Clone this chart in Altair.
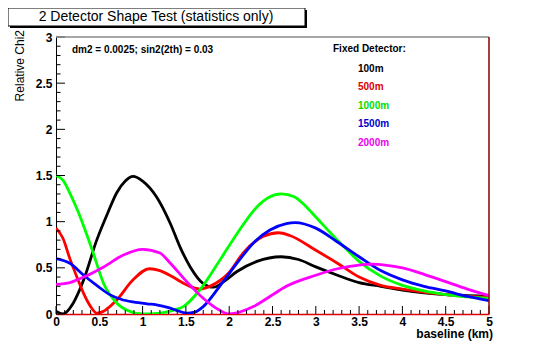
import altair as alt
import pandas as pd

# ---- data ----
black_x = [0, 0.08, 0.2, 0.32, 0.47, 0.6, 0.7, 0.8, 0.89, 1.0, 1.16, 1.32, 1.43, 1.55, 1.7, 1.82, 1.95, 2.09, 2.32, 2.6, 2.8, 3.0, 3.25, 3.5, 3.75, 4.0, 4.25, 4.5, 4.75, 5.0]
black_y = [0.03, 0.0, 0.12, 0.37, 0.80, 1.10, 1.31, 1.44, 1.49, 1.44, 1.27, 0.98, 0.73, 0.51, 0.33, 0.29, 0.36, 0.46, 0.57, 0.62, 0.59, 0.51, 0.42, 0.34, 0.30, 0.26, 0.23, 0.21, 0.20, 0.19]

red_x = [0, 0.08, 0.16, 0.25, 0.32, 0.4, 0.47, 0.55, 0.7, 0.89, 1.08, 1.2, 1.35, 1.5, 1.66, 1.8, 1.89, 2.0, 2.16, 2.39, 2.57, 2.7, 3.0, 3.25, 3.5, 3.75, 4.0, 4.5, 5.0]
red_y = [0.93, 0.82, 0.6, 0.38, 0.22, 0.08, 0.01, 0.03, 0.15, 0.37, 0.49, 0.47, 0.40, 0.32, 0.27, 0.31, 0.36, 0.45, 0.66, 0.84, 0.88, 0.85, 0.69, 0.55, 0.40, 0.31, 0.27, 0.21, 0.18]

green_x = [0, 0.08, 0.16, 0.25, 0.32, 0.43, 0.55, 0.7, 0.85, 1.0, 1.2, 1.35, 1.47, 1.66, 1.89, 2.09, 2.32, 2.45, 2.6, 2.75, 2.88, 3.0, 3.25, 3.5, 3.75, 4.0, 4.25, 4.5, 5.0]
green_y = [1.5, 1.45, 1.31, 1.12, 0.95, 0.66, 0.33, 0.12, 0.03, 0.0, 0.01, 0.04, 0.08, 0.26, 0.58, 0.87, 1.16, 1.26, 1.30, 1.27, 1.17, 1.05, 0.80, 0.57, 0.41, 0.31, 0.25, 0.21, 0.17]

blue_x = [0, 0.16, 0.32, 0.47, 0.62, 0.75, 0.89, 1.05, 1.16, 1.3, 1.39, 1.51, 1.6, 1.7, 1.89, 2.09, 2.28, 2.47, 2.66, 2.76, 3.0, 3.25, 3.5, 3.75, 4.0, 4.25, 4.5, 4.75, 5.0]
blue_y = [0.6, 0.55, 0.42, 0.31, 0.21, 0.16, 0.13, 0.11, 0.10, 0.07, 0.04, 0.01, 0.02, 0.08, 0.30, 0.55, 0.77, 0.91, 0.98, 0.99, 0.93, 0.78, 0.62, 0.47, 0.37, 0.30, 0.25, 0.19, 0.145]

magenta_x = [0, 0.16, 0.32, 0.55, 0.78, 1.0, 1.2, 1.32, 1.51, 1.7, 1.89, 2.0, 2.28, 2.47, 2.66, 3.0, 3.25, 3.5, 3.65, 3.8, 4.0, 4.25, 4.5, 4.75, 5.0]
magenta_y = [0.32, 0.34, 0.40, 0.51, 0.64, 0.70, 0.66, 0.55, 0.35, 0.17, 0.04, 0.0, 0.08, 0.19, 0.30, 0.42, 0.49, 0.53, 0.54, 0.53, 0.50, 0.43, 0.35, 0.27, 0.20]

series_names = ["100m", "500m", "1000m", "1500m", "2000m"]
series_colors = ["#000000", "#ff0000", "#00ff00", "#0000ff", "#ff00ff"]
legend_colors = ["#000000", "#dd0000", "#00dd00", "#0000cc", "#ee00ee"]

x_major = [0, 0.5, 1, 1.5, 2, 2.5, 3, 3.5, 4, 4.5, 5]
x_minor = [i / 10 for i in range(51)]
y_major = [0, 0.5, 1, 1.5, 2, 2.5, 3]
y_minor = [i / 10 for i in range(31)]

title_text = "2 Detector Shape Test (statistics only)"
ytitle_text = "Relative Chi2"
xtitle_text = "baseline (km)"
note_text = "dm2 = 0.0025; sin2(2th) = 0.03"
legend_head = "Fixed Detector:"

# ---- build tables ----
rows = []
for name, xs, ys in zip(series_names,
                        [black_x, red_x, green_x, blue_x, magenta_x],
                        [black_y, red_y, green_y, blue_y, magenta_y]):
    for i, (a, b) in enumerate(zip(xs, ys)):
        rows.append({"series": name, "x": a, "y": b, "i": i})
df = pd.DataFrame(rows)

W, H = 433, 277
FONT = "Liberation Sans"

xscale = alt.Scale(domain=[0, 5], nice=False, zero=False)
yscale = alt.Scale(domain=[0, 3], nice=False, zero=False)

lines = alt.Chart(df).mark_line(strokeWidth=2.8, interpolate="monotone", clip=True).encode(
    x=alt.X("x:Q", scale=xscale,
            axis=alt.Axis(title=None, values=x_major, ticks=False, grid=False, format="~g",
                          labelFont=FONT, labelFontWeight="bold", labelFontSize=12,
                          labelColor="#000", labelPadding=2, labelFlush=False,
                          domainColor="#dd0000", domainWidth=1.5)),
    y=alt.Y("y:Q", scale=yscale,
            axis=alt.Axis(title=None, values=y_major, ticks=False, grid=False, format="~g",
                          labelFont=FONT, labelFontWeight="bold", labelFontSize=12,
                          labelColor="#000", labelPadding=4, labelFlush=False,
                          domainColor="#000", domainWidth=1)),
    color=alt.Color("series:N", scale=alt.Scale(domain=series_names, range=series_colors), legend=None),
    order="i:Q",
)

dummy = pd.DataFrame({"a": [0]})

xmaj_df = pd.DataFrame({"v": x_major})
xmin_df = pd.DataFrame({"v": [v for v in x_minor if all(abs(v - m) > 1e-9 for m in x_major)]})
ymaj_df = pd.DataFrame({"v": y_major})
ymin_df = pd.DataFrame({"v": [v for v in y_minor if all(abs(v - m) > 1e-9 for m in y_major)]})

xt_major = alt.Chart(xmaj_df).mark_rule(color="#000", strokeWidth=1).encode(
    x=alt.X("v:Q", scale=xscale), y=alt.value(H), y2=alt.value(H - 8))
xt_minor = alt.Chart(xmin_df).mark_rule(color="#000", strokeWidth=1).encode(
    x=alt.X("v:Q", scale=xscale), y=alt.value(H), y2=alt.value(H - 4))
yt_major = alt.Chart(ymaj_df).mark_rule(color="#000", strokeWidth=1).encode(
    y=alt.Y("v:Q", scale=yscale), x=alt.value(0), x2=alt.value(9))
yt_minor = alt.Chart(ymin_df).mark_rule(color="#000", strokeWidth=1).encode(
    y=alt.Y("v:Q", scale=yscale), x=alt.value(0), x2=alt.value(4.5))

frame_top = alt.Chart(dummy).mark_rule(color="#888888", strokeWidth=1.5).encode(
    x=alt.value(0), x2=alt.value(W), y=alt.value(0))
frame_right = alt.Chart(dummy).mark_rule(color="#880000", strokeWidth=1.5).encode(
    x=alt.value(W), y=alt.value(0), y2=alt.value(H))

# title box with shadow
box_shadow = alt.Chart(dummy).mark_rect(color="#000").encode(
    x=alt.value(-46), x2=alt.value(251), y=alt.value(-27), y2=alt.value(-9))
box = alt.Chart(dummy).mark_rect(fill="#fff", stroke="#000", strokeWidth=1).encode(
    x=alt.value(-48), x2=alt.value(249), y=alt.value(-29), y2=alt.value(-11))
title = alt.Chart(dummy).mark_text(text=title_text, font=FONT, fontSize=14, color="#000",
                                   align="center", baseline="middle").encode(
    x=alt.value(100), y=alt.value(-20))

ytitle = alt.Chart(dummy).mark_text(text=ytitle_text, font=FONT, fontSize=12, color="#000",
                                    angle=270, align="right", baseline="middle").encode(
    x=alt.value(-36), y=alt.value(-7))
xtitle = alt.Chart(dummy).mark_text(text=xtitle_text, font=FONT, fontSize=12, fontWeight="bold",
                                    color="#000", align="right", baseline="middle").encode(
    x=alt.value(437), y=alt.value(297))

note = alt.Chart(dummy).mark_text(text=note_text, font=FONT, fontSize=10, fontWeight="bold",
                                  color="#000", align="left", baseline="middle").encode(
    x=alt.value(16), y=alt.value(13))
head = alt.Chart(dummy).mark_text(text=legend_head, font=FONT, fontSize=10, fontWeight="bold",
                                  color="#000", align="left", baseline="middle").encode(
    x=alt.value(277), y=alt.value(12))

legend_layers = []
for k, (name, col) in enumerate(zip(series_names, legend_colors)):
    legend_layers.append(
        alt.Chart(dummy).mark_text(text=name, font=FONT, fontSize=10, fontWeight="bold",
                                   color=col, align="left", baseline="middle").encode(
            x=alt.value(302), y=alt.value(32 + 18.4 * k)))

chart = alt.layer(
    lines, xt_minor, xt_major, yt_minor, yt_major, frame_top, frame_right,
    box_shadow, box, title, ytitle, xtitle, note, head, *legend_layers
).properties(
    width=W, height=H,
    autosize=alt.AutoSizeParams(type="none"),
    padding={"left": 48, "top": 29, "right": 40, "bottom": 34},
    background="#ffffff",
).configure_view(stroke=None)

chart.save("out.html", embed_options={"renderer": "svg", "actions": False})
